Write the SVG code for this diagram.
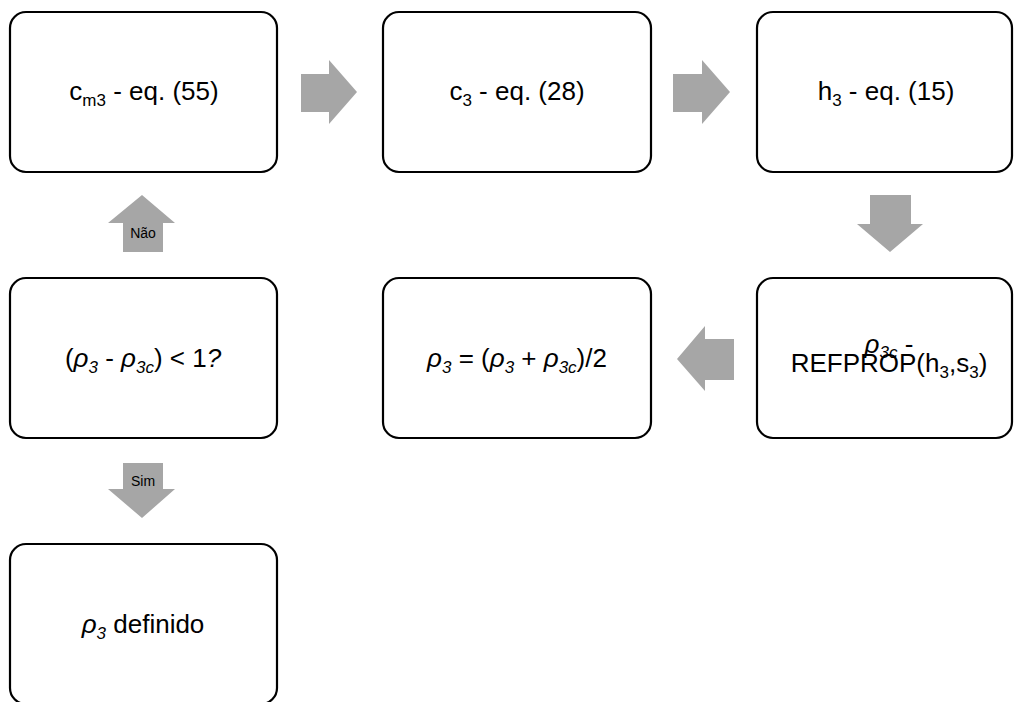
<svg xmlns="http://www.w3.org/2000/svg" width="1014" height="702" viewBox="0 0 1014 702">
  <style>
    .box { fill: #ffffff; stroke: #000000; stroke-width: 2.2; }
    .arrow { fill: #a6a6a6; stroke: none; }
    .lbl { font-family: "Liberation Sans", Arial, sans-serif; font-size: 26px; fill: #000000; text-anchor: middle; }
    .small { font-family: "Liberation Sans", Arial, sans-serif; font-size: 14px; fill: #000000; text-anchor: middle; }
    .it { font-style: italic; }
    .sub { font-size: 17px; }
  </style>
  <rect width="1014" height="702" fill="#ffffff"/>

  <!-- block arrows between steps -->
  <g id="connectors">
    <polygon class="arrow" points="301,74 329,74 329,60 357,92 329,124 329,112 301,112"/>
    <polygon class="arrow" points="673,74 702,74 702,60 730,92 702,124 702,112 673,112"/>
    <polygon class="arrow" points="870,195 911,195 911,224 923,224 890,252 857,224 870,224"/>
    <polygon class="arrow" points="734,339 705,339 705,326 677,359 705,391 705,380 734,380"/>
    <polygon class="arrow" points="123,252 123,223 108,223 142,195 175,223 163,223 163,252"/>
    <text class="small" x="143" y="238">Não</text>
    <polygon class="arrow" points="123,463 163,463 163,489 175,489 142,518 108,489 123,489"/>
    <text class="small" x="143" y="486">Sim</text>
  </g>

  <g id="node-cm3">
    <rect class="box" x="10" y="12" width="267" height="160" rx="16"/>
    <text class="lbl" x="144" y="100">c<tspan class="sub" dy="6">m3</tspan><tspan dy="-6"> - eq. (55)</tspan></text>
  </g>

  <g id="node-c3">
    <rect class="box" x="383" y="12" width="268" height="160" rx="16"/>
    <text class="lbl" x="517" y="100">c<tspan class="sub" dy="6">3</tspan><tspan dy="-6"> - eq. (28)</tspan></text>
  </g>

  <g id="node-h3">
    <rect class="box" x="757" y="12" width="255" height="160" rx="16"/>
    <text class="lbl" x="886" y="100">h<tspan class="sub" dy="6">3</tspan><tspan dy="-6"> - eq. (15)</tspan></text>
  </g>

  <g id="node-rho3c">
    <rect class="box" x="757" y="278" width="255" height="160" rx="16"/>
    <text class="lbl"><tspan x="889" y="353" class="it">ρ</tspan><tspan class="it sub" dy="5">3c</tspan><tspan dy="-5"> -</tspan><tspan x="889" y="372">REFPROP(h</tspan><tspan class="sub" dy="6">3</tspan><tspan dy="-6">,s</tspan><tspan class="sub" dy="6">3</tspan><tspan dy="-6">)</tspan></text>
  </g>

  <g id="node-rho3-update">
    <rect class="box" x="383" y="278" width="268" height="160" rx="16"/>
    <text class="lbl" x="517" y="367"><tspan class="it">ρ</tspan><tspan class="it sub" dy="6">3</tspan><tspan dy="-6"> = (</tspan><tspan class="it">ρ</tspan><tspan class="it sub" dy="6">3</tspan><tspan dy="-6"> + </tspan><tspan class="it">ρ</tspan><tspan class="it sub" dy="6">3c</tspan><tspan dy="-6">)/2</tspan></text>
  </g>

  <g id="node-check">
    <rect class="box" x="10" y="278" width="267" height="160" rx="16"/>
    <text class="lbl" x="143" y="367">(<tspan class="it">ρ</tspan><tspan class="it sub" dy="6">3</tspan><tspan dy="-6"> - </tspan><tspan class="it">ρ</tspan><tspan class="it sub" dy="6">3c</tspan><tspan dy="-6">) &lt; 1</tspan><tspan class="it">?</tspan></text>
  </g>

  <g id="node-done">
    <rect class="box" x="10" y="544" width="267" height="160" rx="16"/>
    <text class="lbl" x="143" y="633"><tspan class="it">ρ</tspan><tspan class="it sub" dy="6">3</tspan><tspan dy="-6"> definido</tspan></text>
  </g>
</svg>
